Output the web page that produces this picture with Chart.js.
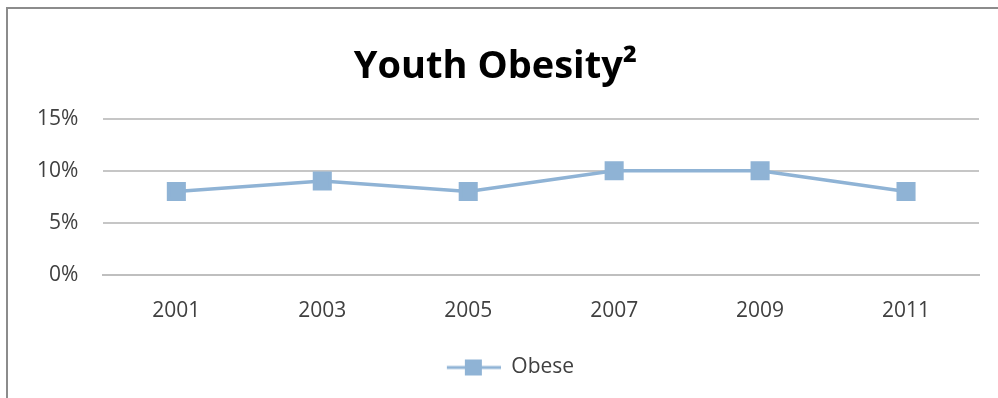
<!DOCTYPE html>
<html>
<head>
<meta charset="utf-8">
<script src="https://cdn.jsdelivr.net/npm/chart.js@4"></script>
<style>
    html, body {
        margin: 0;
        padding: 0;
        background: #fff;
    }
    #frame {
        position: absolute;
        left: 6px;
        top: 7px;
        width: 992px;
        height: 391px;
        border-top: 2px solid #8c8c8c;
        border-left: 2px solid #8c8c8c;
        box-sizing: border-box;
    }
    #wrap {
        position: absolute;
        left: 0;
        top: 0;
        width: 998px;
        height: 398px;
    }
</style>
</head>
<body>
<div id="frame"></div>
<div id="wrap"><canvas id="obesityChart"></canvas></div>
<script>
const years = ["2001", "2003", "2005", "2007", "2009", "2011"];
const obese = [8, 9, 8, 10, 10, 8];
const yTicks = [0, 5, 10, 15];

const lineColor = "#8fb3d5";
const tickFont = { family: "Open Sans", size: 21 };

/* legend swatch: short line with a square in the middle,
   left part kept empty so the legend sits a bit right of centre */
const swatchW = 84;
function legendSwatch() {
    const c = document.createElement("canvas");
    c.width = swatchW;
    c.height = 20;
    const g = c.getContext("2d");
    const x0 = swatchW - 54;
    g.strokeStyle = lineColor;
    g.lineWidth = 3;
    g.beginPath();
    g.moveTo(x0, 10);
    g.lineTo(swatchW, 10);
    g.stroke();
    g.fillStyle = lineColor;
    g.fillRect(x0 + 18, 2, 17, 16);
    return c;
}

const ctx = document.getElementById("obesityChart");

new Chart(ctx, {
    type: "line",
    data: {
        labels: years,
        datasets: [{
            label: "Obese",
            data: obese,
            borderColor: lineColor,
            backgroundColor: lineColor,
            borderWidth: 3.5,
            pointStyle: "rect",
            pointRadius: 11,
            pointHoverRadius: 11,
            tension: 0
        }]
    },
    options: {
        responsive: true,
        maintainAspectRatio: false,
        animation: false,
        layout: {
            padding: { left: 12, right: 19, top: 20, bottom: 10 }
        },
        plugins: {
            title: {
                display: true,
                text: "Youth Obesity²",
                color: "#000",
                font: { family: "Open Sans", size: 38, weight: "bold" },
                padding: { top: 24, bottom: 29 }
            },
            legend: {
                position: "bottom",
                labels: {
                    usePointStyle: true,
                    pointStyleWidth: swatchW,
                    boxHeight: 20,
                    color: "#404040",
                    font: { family: "Open Sans", size: 21 },
                    padding: 17,
                    generateLabels: chart => chart.data.datasets.map((ds, i) => ({
                        text: ds.label,
                        pointStyle: legendSwatch(),
                        fontColor: "#404040",
                        datasetIndex: i
                    }))
                }
            },
            tooltip: { enabled: false }
        },
        scales: {
            x: {
                offset: true,
                grid: { display: false },
                border: { color: "#bfbfbf", width: 2 },
                ticks: {
                    color: "#404040",
                    font: tickFont,
                    padding: 16
                }
            },
            y: {
                min: 0,
                max: 15,
                afterBuildTicks: axis => {
                    axis.ticks = yTicks.map(v => ({ value: v }));
                },
                border: { display: false },
                grid: { color: "#c6c6c6", lineWidth: 2, drawTicks: false },
                ticks: {
                    color: "#404040",
                    font: tickFont,
                    padding: 25,
                    callback: v => v + "%"
                }
            }
        }
    }
});
</script>
</body>
</html>
